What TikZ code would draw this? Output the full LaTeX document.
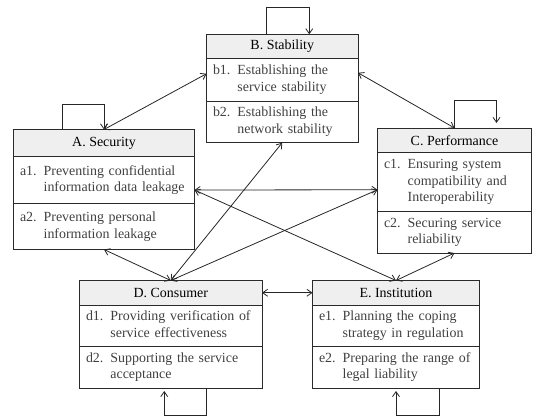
\documentclass[tikz,border=0pt]{standalone}
\usepackage{fontspec}
\setmainfont{Liberation Serif}
\usetikzlibrary{arrows.meta}
\definecolor{hdrc}{HTML}{EFEFEF}
\definecolor{boxc}{HTML}{2A2A2A}
\definecolor{itemc}{HTML}{404040}
\newcommand\itm[3]{\begin{tabular}{@{}l@{ }l@{}}#1&#2\\&#3\end{tabular}}
\newcommand\itmthree[4]{\begin{tabular}{@{}l@{ }l@{}}#1&#2\\&#3\\&#4\end{tabular}}
\begin{document}
\begin{tikzpicture}[x=1bp,y=-1bp,
  font=\fontsize{14}{16.7}\selectfont,
  hdr/.style={draw=boxc,line width=1bp,fill=hdrc,anchor=north west,inner sep=0pt,outer sep=0pt,align=center,text=black},
  sec/.style={draw=boxc,line width=1bp,anchor=north west,inner xsep=6.5bp,inner ysep=0pt,outer sep=0pt,align=left,text=itemc},
  conn/.style={draw=black!85,line width=0.8bp,{Straight Barb[length=5bp,width=7bp]}-{Straight Barb[length=5bp,width=7bp]}},
  selfloop/.style={draw=black!85,line width=0.8bp,-{Straight Barb[length=5bp,width=7bp]}}]
\useasboundingbox (0,0) rectangle (533,417);

% A. Security
\node[hdr,minimum width=181bp,minimum height=27bp] (Ah) at (13.5,129.5) {A. Security};
\node[sec,text width=168bp,minimum height=47bp] (A1) at (Ah.south west) {\itm{a1.}{Preventing confidential}{information data leakage}};
\node[sec,text width=168bp,minimum height=46bp] (A2) at (A1.south west) {\itm{a2.}{Preventing personal}{information leakage}};

% B. Stability
\node[hdr,minimum width=151.5bp,minimum height=24.2bp] (Bh) at (206.5,34.3) {B. Stability};
\node[sec,text width=138.5bp,minimum height=42.5bp] (B1) at (Bh.south west) {\itm{b1.}{Establishing the}{service stability}};
\node[sec,text width=138.5bp,minimum height=41.7bp] (B2) at (B1.south west) {\itm{b2.}{Establishing the}{network stability}};

% C. Performance
\node[hdr,minimum width=154bp,minimum height=24.5bp] (Ch) at (377.5,128) {C. Performance};
\node[sec,text width=141bp,minimum height=58.5bp] (C1) at (Ch.south west) {\itmthree{c1.}{Ensuring system}{compatibility and}{Interoperability}};
\node[sec,text width=141bp,minimum height=42bp] (C2) at (C1.south west) {\itm{c2.}{Securing service}{reliability}};

% D. Consumer
\node[hdr,minimum width=182.5bp,minimum height=24.5bp] (Dh) at (79.5,280.5) {D. Consumer};
\node[sec,text width=169.5bp,minimum height=41.5bp] (D1) at (Dh.south west) {\itm{d1.}{Providing verification of}{service effectiveness}};
\node[sec,text width=169.5bp,minimum height=41.5bp] (D2) at (D1.south west) {\itm{d2.}{Supporting the service}{acceptance}};

% E. Institution
\node[hdr,minimum width=167bp,minimum height=24.5bp] (Eh) at (312.5,280.5) {E. Institution};
\node[sec,text width=154bp,minimum height=41.5bp] (E1) at (Eh.south west) {\itm{e1.}{Planning the coping}{strategy in regulation}};
\node[sec,text width=154bp,minimum height=41.5bp] (E2) at (E1.south west) {\itm{e2.}{Preparing the range of}{legal liability}};

% connector end points
\coordinate (aR) at ([yshift=-10bp]A1.east);
\coordinate (cL) at ([yshift=-8bp]C1.west);
\coordinate (bL) at ([yshift=6bp]B1.west);
\coordinate (bR) at ([yshift=7bp]B1.east);

% connectors
\draw[conn] (Ah.north) -- (bL);
\draw[conn] (bR) -- (Ch.north);
\draw[conn] (aR) -- (cL);
\draw[conn] (aR) -- (Eh.north);
\draw[conn] (A2.south) -- (Dh.north);
\draw[conn] (Dh.north) -- (B2.south);
\draw[conn] (Dh.north) -- (cL);
\draw[conn] (C2.south) -- (Eh.north);
\draw[conn] (Dh.east) -- (Eh.west);

% self loops
\draw[selfloop] ([xshift=-42bp]Ah.north) -- ++(0,-25) -| (Ah.north);
\draw[selfloop] ([xshift=-15.5bp]Bh.north) -- ++(0,-27) -| ([xshift=27bp]Bh.north);
\draw[selfloop] (Ch.north) -- ++(0,-28) -| ([xshift=42bp,yshift=5bp]Ch.north);
\draw[selfloop] ([xshift=36bp]D2.south) -- ++(0,27) -| ([xshift=-6.5bp,yshift=-3bp]D2.south);
\draw[selfloop] ([xshift=43bp]E2.south) -- ++(0,27) -| ([yshift=-3bp]E2.south);
\end{tikzpicture}
\end{document}
